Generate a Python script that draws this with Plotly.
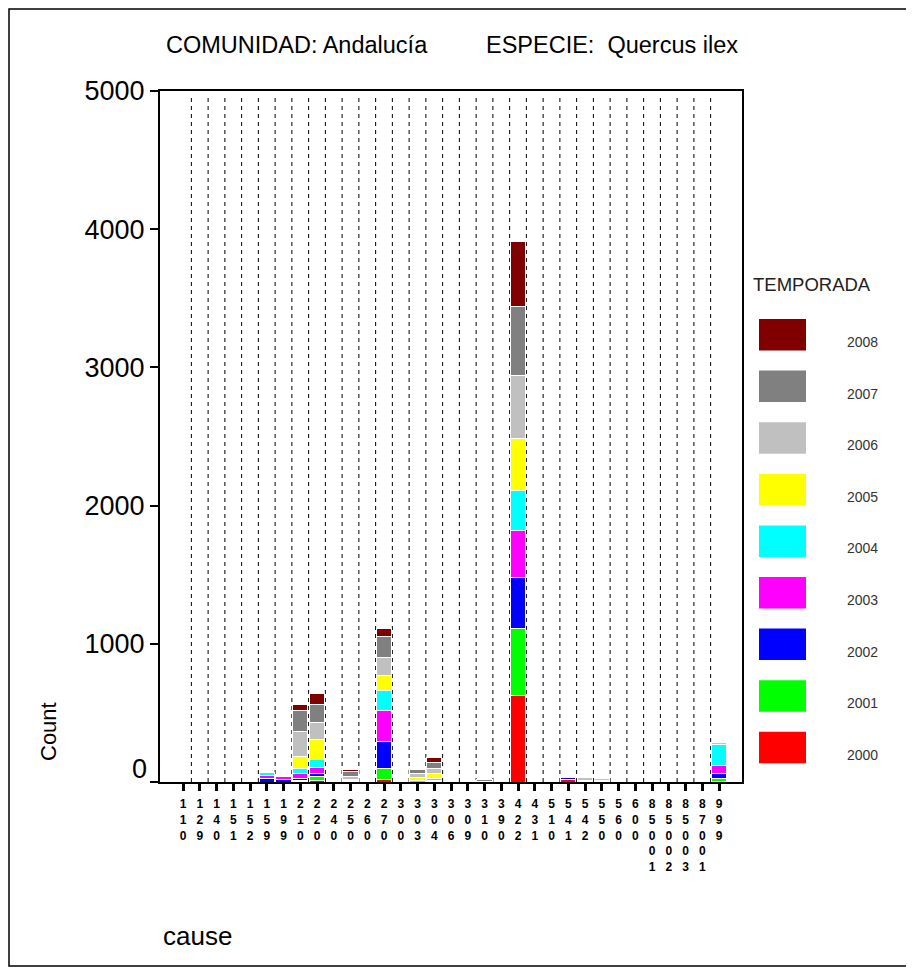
import plotly.graph_objects as go

# ---------------- data ----------------
categories = ["110", "129", "140", "151", "152", "159", "199", "210", "220", "240",
              "250", "260", "270", "300", "303", "304", "306", "309", "310", "390",
              "422", "431", "510", "541", "542", "550", "560", "600", "85001", "85002",
              "85003", "87001", "999"]

years = ["2000", "2001", "2002", "2003", "2004", "2005", "2006", "2007", "2008"]

v2000 = [0, 0, 0, 0, 0, 0, 0, 5, 14, 0, 2, 0, 20, 0, 0, 3, 0, 0, 0, 0, 624, 0, 0, 16, 3, 3, 0, 0, 0, 0, 0, 0, 4]
v2001 = [0, 0, 0, 0, 0, 0, 0, 5, 24, 0, 1, 0, 75, 0, 0, 2, 0, 0, 0, 0, 487, 0, 0, 2, 0, 0, 0, 0, 0, 0, 0, 0, 22]
v2002 = [0, 0, 0, 0, 0, 27, 16, 18, 24, 0, 2, 0, 200, 0, 0, 4, 0, 2, 0, 0, 369, 0, 0, 16, 0, 0, 0, 0, 0, 0, 0, 0, 36]
v2003 = [0, 0, 0, 0, 0, 21, 24, 34, 44, 0, 3, 0, 225, 0, 0, 5, 0, 8, 0, 0, 340, 0, 0, 0, 0, 0, 0, 0, 0, 0, 0, 0, 56]
v2004 = [0, 0, 0, 0, 0, 24, 0, 34, 60, 0, 3, 0, 140, 0, 12, 10, 0, 0, 0, 0, 287, 0, 0, 0, 0, 0, 0, 0, 0, 0, 0, 0, 152]
v2005 = [0, 0, 0, 0, 0, 0, 0, 85, 145, 0, 5, 0, 110, 0, 22, 41, 0, 0, 0, 0, 376, 0, 0, 0, 10, 10, 0, 0, 0, 0, 0, 0, 2]
v2006 = [0, 0, 0, 0, 0, 0, 0, 181, 120, 0, 24, 0, 130, 0, 30, 36, 0, 0, 6, 0, 456, 0, 0, 0, 18, 10, 0, 0, 0, 0, 0, 0, 17]
v2007 = [0, 0, 0, 0, 0, 0, 0, 156, 128, 0, 34, 0, 150, 0, 25, 41, 0, 0, 12, 0, 501, 0, 0, 0, 0, 12, 0, 0, 0, 0, 0, 0, 0]
v2008 = [0, 0, 0, 0, 0, 0, 0, 41, 85, 0, 20, 0, 58, 0, 0, 32, 0, 0, 0, 0, 470, 0, 0, 0, 0, 0, 0, 0, 0, 0, 0, 0, 0]

series = [v2000, v2001, v2002, v2003, v2004, v2005, v2006, v2007, v2008]
colors = ["#FF0000", "#00FF00", "#0000FF", "#FF00FF", "#00FFFF",
          "#FFFF00", "#C0C0C0", "#808080", "#800000"]

y_ticks = [0, 1000, 2000, 3000, 4000, 5000]

title_text = ("COMUNIDAD: Andalucía" + "\u00a0" * 9 + "ESPECIE:" + "\u00a0" * 2 + "Quercus ilex")

FONT = "Liberation Sans, Arial, sans-serif"

# ---------------- geometry (page pixels; the page body has an 8px margin) ----------------
OFF = 8
W, H = 914 - OFF, 970 - OFF
PLOT_L, PLOT_R, PLOT_T, PLOT_B = 160, 742, 91, 782          # page pixels
L, T = PLOT_L - OFF, PLOT_T - OFF
R, B = W - (PLOT_R - OFF), H - (PLOT_B - OFF)
pw, ph = W - L - R, H - T - B


def px2x(px):
    return (px - OFF - L) / pw


def py2y(py):
    return (H - B - (py - OFF)) / ph


n = len(categories)
xs = list(range(n))

fig = go.Figure()
for yr, vals, col in zip(years, series, colors):
    fig.add_trace(go.Bar(
        x=xs, y=vals, name=yr,
        marker=dict(color=col, line=dict(color="white", width=1)),
        showlegend=False,
    ))

shapes = []
# dashed separators between categories
for i in range(n - 1):
    shapes.append(dict(type="line", xref="x", yref="paper", x0=i + 0.5, x1=i + 0.5,
                       y0=0, y1=0.993, layer="below",
                       line=dict(color="black", width=1, dash="4px,4px")))

# outer frame
shapes.append(dict(type="rect", xref="paper", yref="paper",
                   x0=px2x(OFF + 1), x1=px2x(910), y0=py2y(966), y1=py2y(OFF + 1),
                   line=dict(color="black", width=1.5), fillcolor="rgba(0,0,0,0)"))

annotations = []
annotations.append(dict(text=title_text, xref="paper", yref="paper", x=px2x(452), y=py2y(45),
                        xanchor="center", yanchor="middle", showarrow=False,
                        font=dict(family=FONT, size=23.5, color="black")))
annotations.append(dict(text="Count", xref="paper", yref="paper", x=px2x(48), y=py2y(732),
                        xanchor="center", yanchor="middle", textangle=-90, showarrow=False,
                        font=dict(family=FONT, size=22, color="black")))
annotations.append(dict(text="cause", xref="paper", yref="paper", x=px2x(161), y=py2y(936),
                        xanchor="left", yanchor="middle", showarrow=False,
                        font=dict(family=FONT, size=26, color="black")))
# the raised "0" label of the y axis
annotations.append(dict(text=str(y_ticks[0]), xref="paper", yref="y", x=0, y=y_ticks[0],
                        xanchor="right", yanchor="middle", xshift=-11, yshift=13, showarrow=False,
                        font=dict(family=FONT, size=27, color="black")))

# legend drawn by hand (large swatches)
annotations.append(dict(text="TEMPORADA", xref="paper", yref="paper", x=px2x(751), y=py2y(284),
                        xanchor="left", yanchor="middle", showarrow=False,
                        font=dict(family=FONT, size=18.5, color="#222222")))
step = 51.6
for k, (yr, col) in enumerate(zip(years[::-1], colors[::-1])):
    top = 319 + k * step
    shapes.append(dict(type="rect", xref="paper", yref="paper",
                       x0=px2x(759), x1=px2x(806), y0=py2y(top + 31.5), y1=py2y(top),
                       line=dict(width=0), fillcolor=col))
    annotations.append(dict(text=yr, xref="paper", yref="paper", x=px2x(845), y=py2y(top + 23),
                            xanchor="left", yanchor="middle", showarrow=False,
                            font=dict(family=FONT, size=14, color="#333333")))

fig.update_layout(
    width=W, height=H,
    margin=dict(l=L, r=R, t=T, b=B, pad=0),
    barmode="stack", bargap=0.1,
    paper_bgcolor="white", plot_bgcolor="white",
    shapes=shapes, annotations=annotations,
    xaxis=dict(range=[-1.373, n - 1 + 1.373], tickmode="array", tickvals=xs,
               ticktext=["<br>".join(c) for c in categories],
               ticks="outside", ticklen=7, tickwidth=3, tickcolor="black",
               showline=True, linecolor="black", linewidth=2, mirror=True,
               showgrid=False, zeroline=False, ticklabelstandoff=3,
               tickfont=dict(family=FONT, size=12, color="black", weight="bold")),
    yaxis=dict(range=[0, 5000], tickmode="array", tickvals=y_ticks,
               ticktext=[""] + [str(v) for v in y_ticks[1:]],
               ticks="outside", ticklen=8, tickwidth=2, tickcolor="black",
               showline=True, linecolor="black", linewidth=2, mirror=True,
               showgrid=False, zeroline=False, ticklabelstandoff=0,
               tickfont=dict(family=FONT, size=27, color="black")),
    font=dict(family=FONT),
)

fig.write_html("out.html")
